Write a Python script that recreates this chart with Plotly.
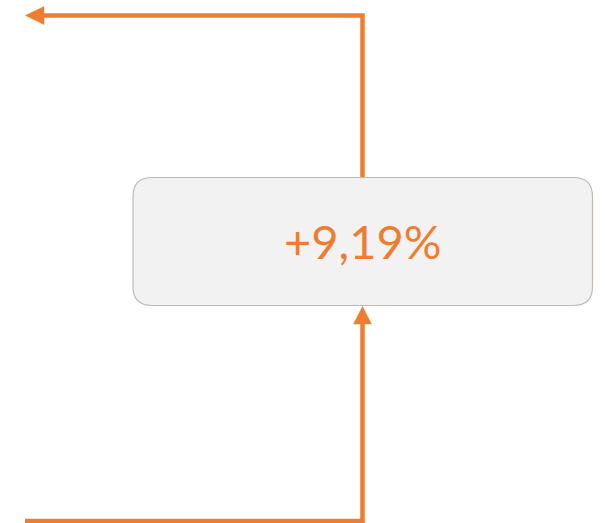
import plotly.graph_objects as go

# Data
change_pct = [9.19]
labels = ["+" + f"{v:.2f}".replace(".", ",") + "%" for v in change_pct]

ORANGE = "#ED7D31"
W, H = 605, 523

fig = go.Figure()
fig.add_trace(go.Scatter(x=[0, W], y=[0, H], mode="markers",
                         marker=dict(opacity=0), hoverinfo="skip", showlegend=False))

# box
x0, x1, y0, y1, r = 133, 592.5, 177.5, 305.5, 19
box = (f"M {x0+r},{y0} L {x1-r},{y0} Q {x1},{y0} {x1},{y0+r} "
       f"L {x1},{y1-r} Q {x1},{y1} {x1-r},{y1} L {x0+r},{y1} "
       f"Q {x0},{y1} {x0},{y1-r} L {x0},{y0+r} Q {x0},{y0} {x0+r},{y0} Z")
shapes = [
    dict(type="path", path=box, fillcolor="#F2F2F2",
         line=dict(color="#BFBAB5", width=1.2), layer="below"),
    # top connector
    dict(type="path", path="M 42,15.5 L 362.5,15.5 L 362.5,177",
         line=dict(color=ORANGE, width=4.5)),
    dict(type="path", path="M 25.5,15.5 L 44,6.5 L 44,24.5 Z",
         fillcolor=ORANGE, line=dict(color=ORANGE, width=0.5)),
    # bottom connector
    dict(type="path", path="M 25,521 L 362.5,521 L 362.5,322",
         line=dict(color=ORANGE, width=4.5)),
    dict(type="path", path="M 362.5,306.5 L 353.5,324 L 371.5,324 Z",
         fillcolor=ORANGE, line=dict(color=ORANGE, width=0.5)),
]

fig.update_layout(
    width=W, height=H,
    margin=dict(l=0, r=0, t=0, b=0),
    paper_bgcolor="white", plot_bgcolor="white",
    xaxis=dict(range=[0, W], visible=False, fixedrange=True),
    yaxis=dict(range=[H, 0], visible=False, fixedrange=True),
    shapes=shapes,
    annotations=[dict(x=362, y=241, xref="x", yref="y",
                      text=labels[0], showarrow=False,
                      font=dict(family="Lato", size=47, color=ORANGE),
                      xanchor="center", yanchor="middle")],
    showlegend=False,
)

fig.write_html("out.html", config={"displayModeBar": False},
               post_script="document.body.style.margin='0';document.body.style.padding='0';document.body.style.overflow='hidden';")
